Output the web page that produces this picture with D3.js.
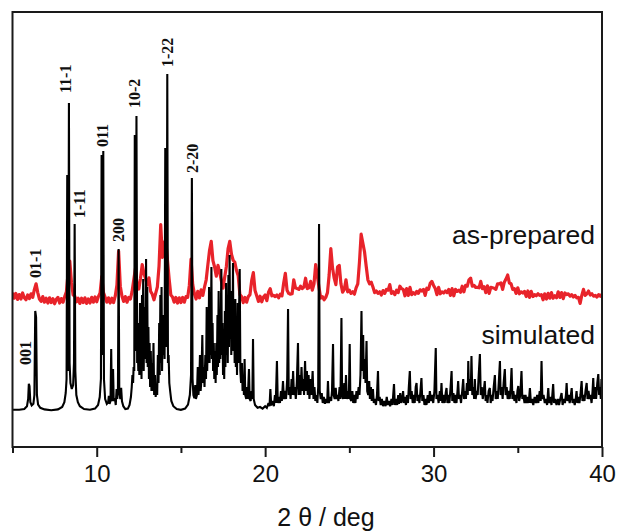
<!DOCTYPE html>
<html>
<head>
<meta charset="utf-8">
<script src="https://cdn.jsdelivr.net/npm/d3@7"></script>
<style>
  body { margin: 0; background: #fff; }
  svg { display: block; }
</style>
</head>
<body>
<svg id="chart" width="629" height="532"></svg>
<script>
// Simulated powder pattern: [2θ (deg), intensity (a.u.)]
const simulated = [
  [5.00,0.3],[5.40,0.3],[5.70,0.5],[5.86,1.2],[5.93,3],[5.97,6.8],[6.01,6.2],[6.06,2.2],[6.14,1.4],[6.24,1.8],
  [6.30,4],[6.35,25],[6.40,23.5],[6.45,4],[6.52,1.6],[6.65,0.8],[6.9,0.4],[7.3,0.2],[7.7,0.4],[7.95,1.0],
  [8.08,2.2],[8.16,4.5],[8.21,8],[8.25,59],[8.28,20],[8.31,10],[8.35,77],[8.39,12],[8.44,7],[8.52,5.5],
  [8.60,6.5],[8.65,12],[8.69,46.75],[8.73,10],[8.79,4],[8.88,2.2],[9.0,1.2],[9.25,0.5],[9.6,0.3],[9.9,0.6],
  [10.08,1.5],[10.18,3.5],[10.25,8],[10.29,64],[10.33,14],[10.36,30],[10.39,65],[10.43,8],[10.5,3],[10.6,1.8],
  [10.68,2.2],[10.72,3.8],[10.76,1.8],[10.82,2.5],[10.86,15.5],[10.90,2.5],[10.94,3],[10.97,10.5],[11.01,2.5],[11.08,3.2],
  [11.13,1.5],[11.18,5.5],[11.22,3],[11.26,5],[11.30,40.5],[11.34,5],[11.40,3],[11.45,5.8],[11.50,2.4],[11.58,1.2],
  [11.7,0.5],[11.85,0.6],[11.95,1.5],[12.03,3.5],[12.08,6],[12.12,9],[12.16,7],[12.19,11],[12.23,10],[12.26,69],
  [12.29,20],[12.32,15],[12.36,73.75],[12.40,12],[12.44,16],[12.47,10],[12.50,22],[12.53,9],[12.57,27],[12.60,11],
  [12.63,20],[12.66,8],[12.69,29],[12.72,12],[12.76,33],[12.79,10],[12.83,26],[12.86,13],[12.90,18],[12.93,38],
  [12.96,12],[13.00,31],[13.03,11],[13.07,21],[13.10,8],[13.14,17],[13.17,6],[13.21,15],[13.25,5],[13.29,12],
  [13.33,5],[13.37,17],[13.41,4],[13.46,9],[13.50,3.5],[13.55,6],[13.59,4],[13.63,14],[13.67,7],[13.71,22],
  [13.74,9],[13.78,29],[13.81,12],[13.85,31],[13.88,10],[13.92,24],[13.96,14],[14.0,18],[14.03,13],[14.07,65.75],
  [14.11,22],[14.15,16],[14.19,84.25],[14.23,12],[14.27,14],[14.31,7],[14.36,5],[14.43,2.5],[14.55,1.2],[14.75,0.5],
  [15.0,0.3],[15.25,0.6],[15.42,1.6],[15.53,4],[15.60,9],[15.65,58.25],[15.69,8],[15.74,4],[15.80,3.2],[15.85,6.5],
  [15.89,3],[15.95,4],[16.0,11],[16.04,4],[16.09,7],[16.13,14],[16.17,5],[16.22,8],[16.27,19],[16.31,7],
  [16.36,11],[16.40,6],[16.45,14],[16.49,8],[16.53,26],[16.56,10],[16.60,20],[16.63,12],[16.67,31],[16.70,12],
  [16.74,24],[16.77,14],[16.81,36],[16.84,13],[16.88,22],[16.91,10],[16.95,17],[16.98,8],[17.03,15],[17.06,7],
  [17.10,17],[17.13,9],[17.17,24],[17.20,11],[17.24,30],[17.27,12],[17.31,20],[17.34,13],[17.40,35.5],[17.43,14],
  [17.47,22],[17.50,9],[17.54,18],[17.57,8],[17.61,25],[17.64,11],[17.68,32],[17.71,14],[17.75,27],[17.78,12],
  [17.82,34],[17.85,16],[17.89,39],[17.92,18],[17.96,30],[17.99,14],[18.03,26],[18.06,17],[18.09,37],[18.12,15],
  [18.16,24],[18.19,12],[18.23,28],[18.26,11],[18.30,20],[18.33,9],[18.37,27],[18.40,12],[18.44,22],[18.49,35.5],
  [18.53,10],[18.57,7],[18.62,12],[18.66,5],[18.71,9],[18.74,4],[18.78,13],[18.82,4],[18.88,3],[18.93,6],
  [18.97,3],[19.04,10.5],[19.08,3],[19.14,2.5],[19.20,5],[19.24,3],[19.28,18],[19.32,3],[19.40,1.5],[19.55,0.8],
  [19.70,1.0],[19.85,0.6],[20.0,1.2],[20.10,0.8],[20.2,2.0],[20.26,1.2],[20.31,5.5],[20.36,1.4],[20.45,2.5],[20.52,1.2],
  [20.58,4],[20.63,2],[20.70,12.5],[20.75,2],[20.82,3.5],[20.88,2],[20.94,5],[20.99,2.5],[21.06,7.5],[21.11,3],
  [21.18,5],[21.24,3],[21.31,8],[21.36,25.5],[21.40,4],[21.46,6],[21.51,3],[21.57,8],[21.61,4],[21.66,10],
  [21.71,4],[21.77,6],[21.82,3],[21.88,7],[21.95,17],[21.99,4],[22.05,9],[22.10,4],[22.16,11],[22.21,5],
  [22.27,8],[22.31,4],[22.37,12.5],[22.42,5],[22.48,10],[22.53,4],[22.58,9],[22.63,3],[22.70,8],[22.75,4],
  [22.82,10],[22.87,3],[22.93,6],[22.98,2.5],[23.05,4],[23.10,2],[23.15,6],[23.20,46.75],[23.24,5],[23.30,3],
  [23.36,4.5],[23.42,2],[23.48,3.5],[23.55,1.8],[23.62,3],[23.68,2],[23.73,7.5],[23.78,2],[23.85,3.5],[23.92,2.5],
  [23.97,5],[24.03,16.75],[24.07,4],[24.13,3],[24.19,5.8],[24.24,3],[24.30,4],[24.35,2.5],[24.42,6],[24.47,3],
  [24.53,23.25],[24.57,4],[24.63,3],[24.70,7],[24.75,3],[24.80,9],[24.85,3],[24.92,5],[24.97,3],[25.02,16.75],
  [25.06,3],[25.12,2.5],[25.18,5],[25.23,2],[25.30,4],[25.36,2],[25.42,5],[25.48,3],[25.55,6],[25.60,4],
  [25.66,9],[25.72,25],[25.76,10],[25.82,19],[25.86,8],[25.92,13],[25.96,7],[26.02,17.5],[26.06,5],[26.12,4],
  [26.18,7.5],[26.22,3],[26.28,6],[26.33,2.5],[26.40,5.5],[26.45,2],[26.52,3],[26.58,1.5],[26.64,4],[26.70,10],
  [26.74,2.5],[26.80,3.5],[26.86,1.5],[26.93,3],[27.00,1.2],[27.08,2.5],[27.15,1.2],[27.22,3.5],[27.28,1.5],[27.36,2.5],
  [27.42,1.2],[27.50,3],[27.56,1.5],[27.65,6.75],[27.70,1.5],[27.78,3],[27.84,1.5],[27.90,4],[27.95,1.8],[28.02,4.5],
  [28.08,2],[28.14,3],[28.19,5],[28.24,2],[28.30,3.5],[28.36,1.5],[28.42,4],[28.48,2],[28.53,6],[28.59,10],
  [28.64,3],[28.70,5],[28.76,2],[28.82,4],[28.88,2],[28.94,6],[28.99,7],[29.04,2.5],[29.10,4],[29.16,2],
  [29.22,5],[29.28,8.25],[29.33,2.5],[29.40,4],[29.46,1.5],[29.52,3],[29.58,1.5],[29.65,4],[29.72,2],[29.78,5],
  [29.84,2.5],[29.92,4],[29.98,2],[30.05,5],[30.13,15.75],[30.17,3],[30.24,4],[30.30,2],[30.37,5],[30.42,2.5],
  [30.47,7],[30.52,2],[30.60,4],[30.66,2],[30.72,4.5],[30.77,5.75],[30.82,2],[30.88,4],[30.94,2],[31.01,6],
  [31.07,10],[31.11,2.5],[31.18,4.5],[31.24,2],[31.30,4],[31.36,2],[31.42,5],[31.46,7.5],[31.51,3],[31.57,4],
  [31.63,2],[31.70,5],[31.76,8],[31.81,3],[31.87,5],[31.92,3],[31.98,7],[32.03,4],[32.06,12.5],[32.10,5],
  [32.16,8],[32.21,5],[32.25,13.75],[32.30,4],[32.36,6],[32.41,3],[32.45,8],[32.50,3],[32.56,5],[32.62,4],
  [32.68,9],[32.75,14.25],[32.80,4],[32.86,6],[32.92,3],[32.98,5],[33.04,7.5],[33.09,2.5],[33.15,4],[33.20,2],
  [33.27,5],[33.34,5.75],[33.39,2],[33.45,4],[33.50,2.5],[33.57,6],[33.64,9],[33.69,3],[33.76,5],[33.81,3],
  [33.87,7],[33.94,12.5],[33.98,4],[34.05,6],[34.10,3],[34.16,7],[34.23,10.5],[34.28,4],[34.34,6],[34.40,3],
  [34.46,5],[34.52,3],[34.58,6],[34.63,10.75],[34.68,3],[34.74,5],[34.80,2.5],[34.86,4],[34.92,2],[34.98,5],
  [35.03,6.25],[35.08,2.5],[35.15,4],[35.22,10],[35.27,3],[35.33,4],[35.40,2],[35.46,4],[35.52,2],[35.58,3.5],
  [35.65,2],[35.72,5.75],[35.78,2],[35.85,3],[35.92,1.5],[36.00,3.5],[36.08,2],[36.15,4],[36.22,2],[36.30,5],
  [36.36,2.5],[36.41,12.5],[36.46,3],[36.53,4],[36.60,2],[36.67,3],[36.74,1.5],[36.81,5.75],[36.86,2],[36.93,3.5],
  [37.00,1.5],[37.05,4],[37.10,6.75],[37.15,2],[37.22,3],[37.30,1.5],[37.38,3],[37.45,1.5],[37.52,3],[37.60,4.5],
  [37.66,1.5],[37.73,3],[37.80,2],[37.86,4],[37.90,7],[37.95,2.5],[38.02,4],[38.08,2],[38.14,3.5],[38.20,5.75],
  [38.25,2],[38.32,3],[38.38,1.5],[38.44,3],[38.49,5],[38.54,2],[38.60,3.5],[38.66,2],[38.72,4],[38.79,7.5],
  [38.84,2.5],[38.90,4],[38.96,2.5],[39.02,5],[39.09,7],[39.14,3],[39.20,5],[39.26,3],[39.32,4],[39.38,2],
  [39.44,5],[39.48,8.25],[39.53,3],[39.60,6],[39.65,3],[39.72,7],[39.78,9.25],[39.83,4],[39.88,6],[39.93,3],
  [39.97,8],[40.0,5]
];

// Measured (as-prepared) pattern, one reading every 0.1 deg from 5.0 to 40.0
const measuredStart = 5.0;
const measuredStep = 0.1;
const asPrepared = [
  29.6,28.2,29.4,27.9,29.1,28.0,29.5,28.3,27.8,29.0,
  28.1,29.3,28.4,30.4,31.8,29.6,28.0,27.4,28.6,27.2,
  28.2,27.0,28.3,27.1,28.1,26.8,27.9,28.4,27.0,28.1,
  27.2,28.6,29.8,34.5,37.5,32.2,29.0,28.7,27.3,28.2,
  26.9,28.2,27.1,28.3,26.9,28.0,27.0,28.4,27.2,28.5,
  27.3,28.6,29.5,33.6,29.6,28.4,27.2,28.3,27.0,28.2,
  27.1,28.7,31.5,40.0,31.2,28.7,27.4,28.6,27.2,28.4,
  28.0,29.9,32.8,35.6,31.0,30.5,33.2,36.6,34.4,33.1,
  31.5,33.3,29.9,29.2,27.8,29.4,31.0,36.2,46.6,38.4,
  42.0,42.8,37.8,33.0,29.0,28.5,27.2,28.4,27.0,28.3,
  27.1,28.4,27.2,28.6,28.4,31.4,38.0,31.6,29.3,28.0,
  29.9,28.3,30.3,28.9,31.0,32.8,36.6,40.2,42.4,37.6,
  36.0,33.7,36.4,34.7,32.6,30.7,33.5,36.2,40.6,42.4,
  39.2,37.7,37.2,35.1,33.8,29.1,28.6,27.1,28.4,27.2,
  28.6,29.1,32.6,34.6,30.1,28.8,27.4,28.7,27.3,28.5,
  29.0,27.6,29.7,30.6,28.8,28.9,28.6,29.0,28.3,29.2,
  28.8,32.0,34.4,30.2,29.4,29.2,29.3,32.8,30.8,30.6,
  30.4,31.2,30.6,31.0,33.2,30.6,30.8,32.4,30.2,31.8,
  36.6,33.8,30.8,28.2,28.6,27.8,28.4,29.6,34.0,40.6,
  35.8,33.2,31.6,36.0,36.4,31.8,29.7,30.4,32.8,29.8,
  30.2,29.4,29.8,29.2,30.8,31.8,37.2,44.2,42.0,39.8,
  36.2,32.8,31.8,32.2,31.0,29.6,30.0,29.4,29.8,29.0,
  30.1,29.4,30.4,30.2,31.6,29.4,29.8,29.1,30.2,29.6,
  31.2,30.6,30.4,28.8,30.6,28.9,30.9,29.1,29.6,29.2,
  29.9,29.4,30.3,30.0,30.4,28.9,30.7,30.4,31.9,32.4,
  31.4,30.6,29.1,30.9,29.3,29.8,29.5,30.0,29.6,30.4,
  28.9,30.6,28.8,30.4,29.9,30.2,29.7,31.2,29.8,31.4,
  31.2,32.8,33.2,31.2,31.4,30.9,30.9,30.8,32.4,30.6,
  31.1,29.6,31.3,29.4,30.9,30.8,30.7,30.4,31.8,31.8,
  32.0,30.4,32.2,33.0,34.0,32.0,31.8,30.4,30.6,29.4,
  30.8,29.3,29.8,29.5,29.9,28.6,30.0,28.4,29.9,28.6,
  29.1,28.8,29.3,28.9,29.1,27.8,29.3,28.0,29.4,28.2,
  29.6,28.2,28.8,28.3,29.8,28.4,29.6,28.1,29.5,29.1,
  29.3,28.7,29.1,28.5,28.9,28.3,28.4,26.9,28.9,30.4,
  28.9,29.3,30.0,29.0,29.3,28.7,28.9,28.5,29.1,28.7,
  29.2
];

// Miller-index annotations: text, 2θ of the label, intensity level of the label foot
const hklNames = ["001", "01-1", "11-1", "1-11", "011", "200", "10-2", "1-22", "2-20"];
const hklTheta = [5.80, 6.34, 8.16, 9.01, 10.36, 11.32, 12.27, 14.23, 15.70];
const hklLevel = [11.5, 33.25, 79.5, 48.25, 66.0, 42.25, 75.75, 86.0, 59.5];

const seriesNames = ["as-prepared", "simulated"];
const majorTicks = [10, 20, 30, 40];
const minorTicks = [5, 15, 25, 35];
const xTitle = "2 \u03B8 / deg";

// ---- layout ----
const svg = d3.select("#chart");
const plotLeft = 12.5, plotRight = 602, plotTop = 12, plotBottom = 447;

const x = d3.scaleLinear().domain([5, 40]).range([plotLeft, plotRight]);
const y = d3.scaleLinear().domain([-9, 99.75]).range([plotBottom, plotTop]);

const line = d3.line().x(d => x(d[0])).y(d => y(d[1]));

const measuredPoints = asPrepared.map((v, i) => [measuredStart + i * measuredStep, v]);

svg.append("defs").append("clipPath").attr("id", "plot-clip")
  .append("rect").attr("x", plotLeft).attr("y", plotTop)
  .attr("width", plotRight - plotLeft).attr("height", plotBottom - plotTop);

const plot = svg.append("g").attr("clip-path", "url(#plot-clip)");

plot.append("path")
  .datum(measuredPoints)
  .attr("d", line)
  .attr("fill", "none")
  .attr("stroke", "#e8232a")
  .attr("stroke-width", 3.2)
  .attr("stroke-linejoin", "round");

plot.append("path")
  .datum(simulated)
  .attr("d", line)
  .attr("fill", "none")
  .attr("stroke", "#000")
  .attr("stroke-width", 2.1)
  .attr("stroke-linejoin", "miter")
  .attr("stroke-miterlimit", 3);

// Miller-index labels, rotated to read upward
svg.append("g").selectAll("text")
  .data(hklNames)
  .join("text")
  .attr("transform", (d, i) => `translate(${x(hklTheta[i])},${y(hklLevel[i])}) rotate(-90)`)
  .attr("dy", "0.34em")
  .attr("font-family", "'Liberation Serif', 'Times New Roman', serif")
  .attr("font-weight", "bold")
  .attr("font-size", 16)
  .attr("fill", "#111")
  .text(d => d);

// Series names
const seriesBaseline = [244, 344];
svg.append("g").selectAll("text")
  .data(seriesNames)
  .join("text")
  .attr("x", 595)
  .attr("y", (d, i) => seriesBaseline[i])
  .attr("text-anchor", "end")
  .attr("font-family", "'Liberation Sans', Arial, sans-serif")
  .attr("font-size", 26.5)
  .attr("fill", "#111")
  .text(d => d);

// Frame
svg.append("rect")
  .attr("x", plotLeft).attr("y", plotTop)
  .attr("width", plotRight - plotLeft).attr("height", plotBottom - plotTop)
  .attr("fill", "none").attr("stroke", "#1a1a1a").attr("stroke-width", 2);

// Bottom axis with major and minor ticks
const axisMajor = d3.axisBottom(x).tickValues(majorTicks).tickSize(10).tickPadding(8).tickFormat(d3.format("d"));
const axisMinor = d3.axisBottom(x).tickValues(minorTicks).tickSize(6).tickFormat("");

const gMinor = svg.append("g").attr("transform", `translate(0,${plotBottom})`).call(axisMinor);
const gMajor = svg.append("g").attr("transform", `translate(0,${plotBottom})`).call(axisMajor);
[gMinor, gMajor].forEach(g => {
  g.select(".domain").remove();
  g.selectAll(".tick line").attr("stroke", "#1a1a1a").attr("stroke-width", 2);
});
gMajor.selectAll(".tick text")
  .attr("font-family", "'Liberation Sans', Arial, sans-serif")
  .attr("font-size", 24)
  .attr("fill", "#111");

svg.append("text")
  .attr("x", 326)
  .attr("y", 526)
  .attr("text-anchor", "middle")
  .attr("font-family", "'Liberation Sans', Arial, sans-serif")
  .attr("font-size", 25)
  .attr("fill", "#111")
  .text(xTitle);
</script>
</body>
</html>
